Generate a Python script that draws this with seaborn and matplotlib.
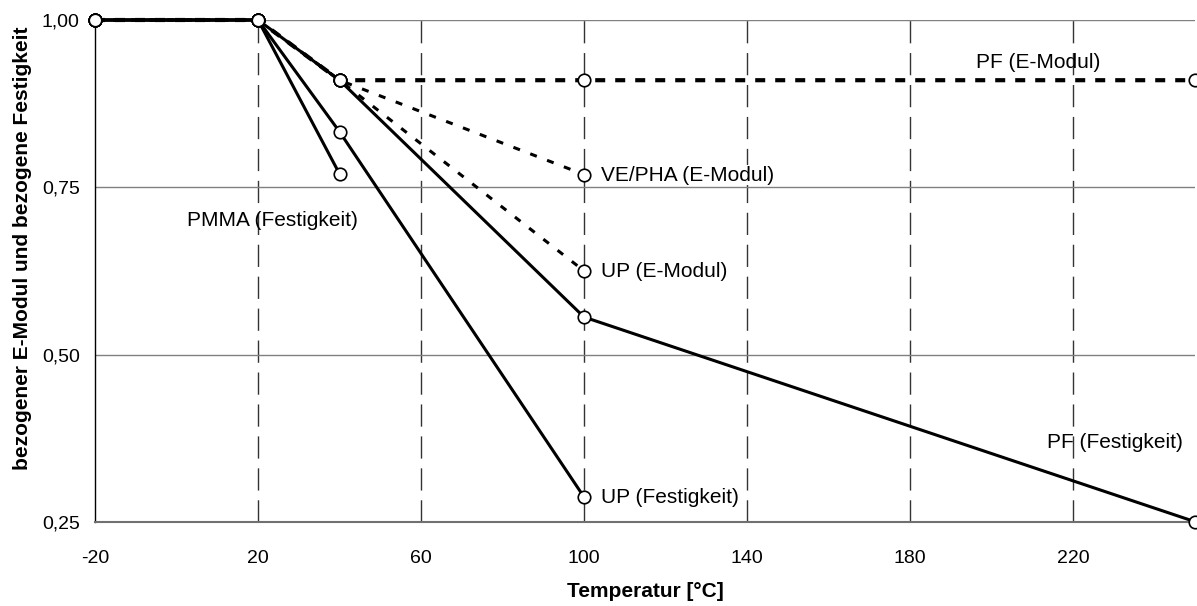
import pandas as pd
import seaborn as sns
import matplotlib.pyplot as plt
from matplotlib.ticker import FuncFormatter

# data
temp_pmma = [-20, 20, 40]
pmma_festigkeit = [1.0, 1.0, 0.77]

temp_up_f = [-20, 20, 40, 100]
up_festigkeit = [1.0, 1.0, 0.833, 0.287]

temp_pf_f = [-20, 20, 40, 100, 250]
pf_festigkeit = [1.0, 1.0, 0.91, 0.556, 0.25]

temp_pf_e = [-20, 20, 40, 100, 250]
pf_emodul = [1.0, 1.0, 0.91, 0.91, 0.91]

temp_ve_e = [-20, 20, 40, 100]
ve_emodul = [1.0, 1.0, 0.91, 0.769]

temp_up_e = [-20, 20, 40, 100]
up_emodul = [1.0, 1.0, 0.91, 0.625]

x_ticks = [-20, 20, 60, 100, 140, 180, 220]
y_ticks = [0.25, 0.50, 0.75, 1.00]

sns.set_theme(style="white")
plt.rcParams["font.family"] = ["Liberation Sans", "DejaVu Sans"]
plt.rcParams["axes.unicode_minus"] = False
plt.rcParams["text.color"] = "black"
plt.rcParams["axes.labelcolor"] = "black"

fig, ax = plt.subplots(figsize=(11.97, 6.06), dpi=100)
fig.subplots_adjust(left=0.0794, right=0.9985, top=0.967, bottom=0.139)

series = [
    (temp_pf_e, pf_emodul, (0, (2.4, 2.4)), 3.0),
    (temp_ve_e, ve_emodul, (0, (2.3, 3.6)), 2.2),
    (temp_up_e, up_emodul, (0, (2.3, 3.6)), 2.2),
    (temp_pmma, pmma_festigkeit, "-", 2.2),
    (temp_up_f, up_festigkeit, "-", 2.2),
    (temp_pf_f, pf_festigkeit, "-", 2.2),
]

for xs, ys, ls, lw in series:
    df = pd.DataFrame({"T": xs, "v": ys})
    sns.lineplot(data=df, x="T", y="v", ax=ax, color="black", linestyle=ls,
                 linewidth=lw, marker="o", markersize=9, markerfacecolor="white",
                 markeredgecolor="black", markeredgewidth=1.2, zorder=3,
                 clip_on=False)

ax.set_xlim(-20, 250)
ax.set_ylim(0.25, 1.0)
ax.set_xticks(x_ticks)
ax.set_yticks(y_ticks)
ax.yaxis.set_major_formatter(FuncFormatter(lambda v, p: f"{v:.2f}".replace(".", ",")))
ax.tick_params(axis="x", length=0, labelsize=14, colors="black", pad=20)
ax.tick_params(axis="y", length=0, labelsize=14, colors="black", pad=11)

for x in x_ticks[1:]:
    ax.axvline(x, color="#333333", linewidth=1.0, linestyle=(0, (16, 7)), zorder=1)
for y in y_ticks[1:]:
    ax.axhline(y, color="#808080", linewidth=1.0, zorder=1)

for side in ["top", "right"]:
    ax.spines[side].set_visible(False)
ax.spines["left"].set_color("black")
ax.spines["left"].set_linewidth(1.0)
ax.spines["bottom"].set_color("#707070")
ax.spines["bottom"].set_linewidth(1.5)

ax.set_xlabel("Temperatur [°C]", fontsize=15, fontweight="bold", labelpad=11)
ax.set_ylabel("bezogener E-Modul und bezogene Festigkeit", fontsize=15,
              fontweight="bold")
ax.yaxis.set_label_coords(-0.057, 0.546)

ax.text(196.2, 0.936, "PF (E-Modul)", fontsize=15, va="center")
ax.text(104.2, 0.768, "VE/PHA (E-Modul)", fontsize=15, va="center",
        bbox=dict(facecolor="white", edgecolor="none", pad=0.5), zorder=2)
ax.text(104.2, 0.624, "UP (E-Modul)", fontsize=15, va="center")
ax.text(104.2, 0.286, "UP (Festigkeit)", fontsize=15, va="center")
ax.text(213.7, 0.368, "PF (Festigkeit)", fontsize=15, va="center")
ax.text(2.5, 0.701, "PMMA (Festigkeit)", fontsize=15, va="center")

plt.savefig("out.png", dpi=100)
